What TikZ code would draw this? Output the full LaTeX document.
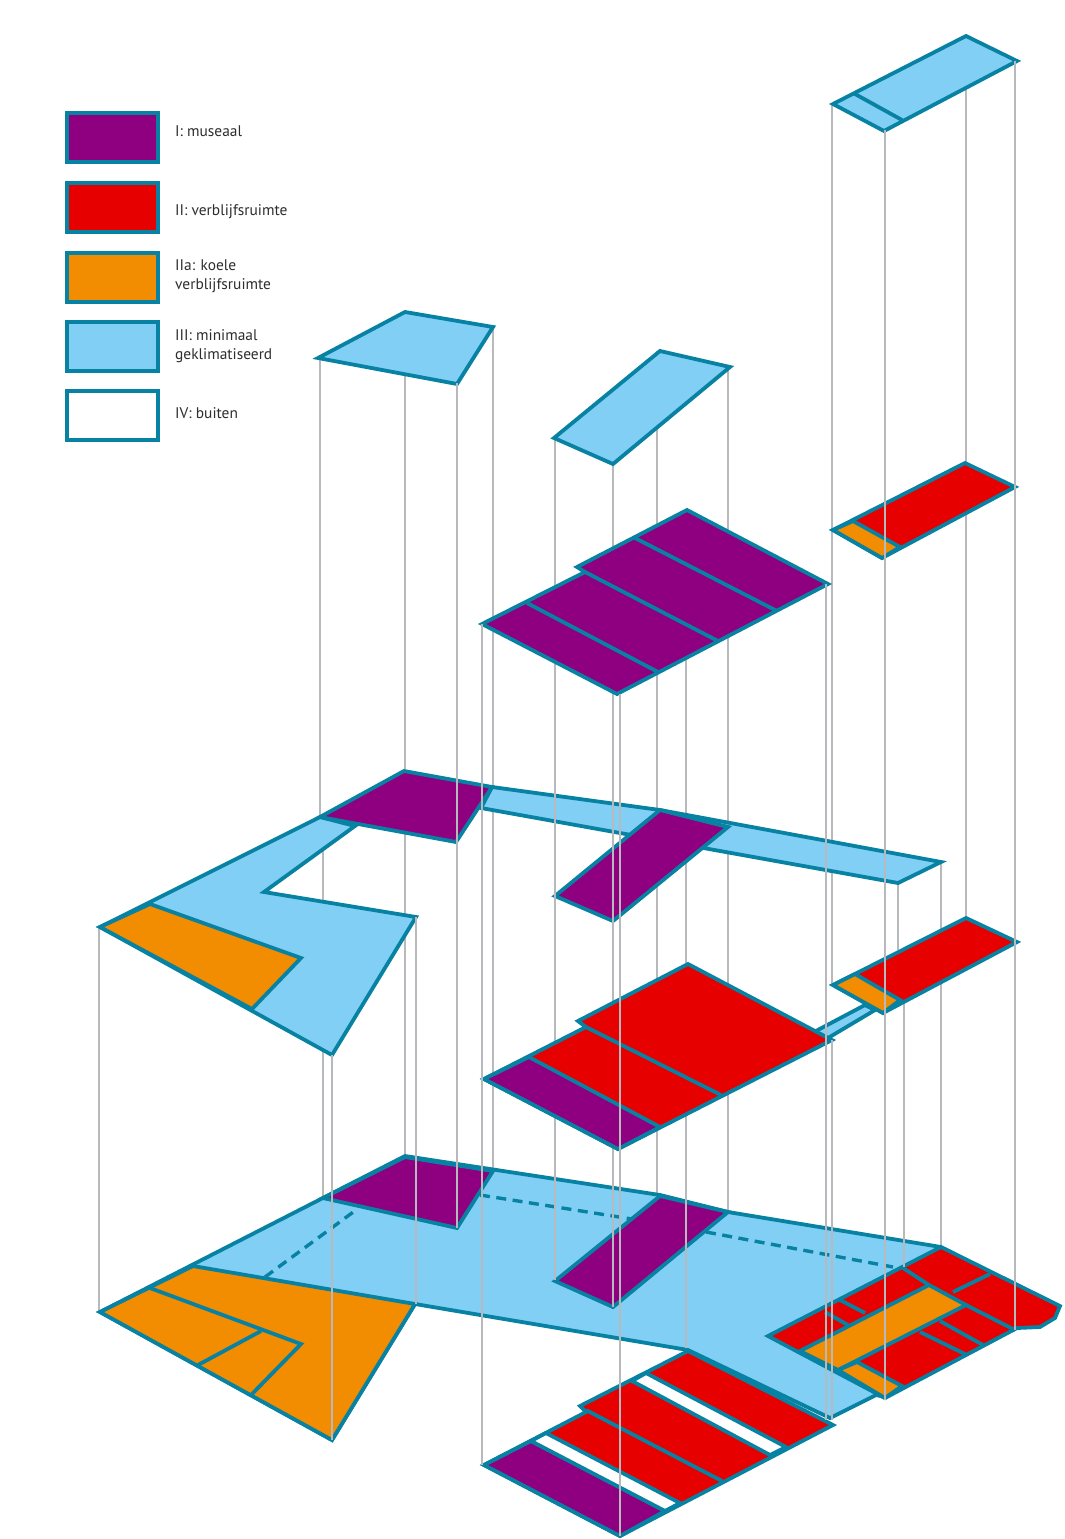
\documentclass[tikz,border=0pt]{standalone}
\usepackage{fontspec}
\setmainfont{PT Sans}
\definecolor{edge}{RGB}{8,130,163}
\definecolor{zpurple}{RGB}{142,0,127}
\definecolor{zred}{RGB}{230,0,0}
\definecolor{zorange}{RGB}{242,140,0}
\definecolor{zblue}{RGB}{130,207,245}
\definecolor{guide}{RGB}{184,185,189}
\definecolor{legendtext}{RGB}{45,45,45}
\tikzset{
  zone/.style={draw=edge,line width=3.8pt,line join=miter},
  museaal/.style={zone,fill=zpurple},
  verblijf/.style={zone,fill=zred},
  koel/.style={zone,fill=zorange},
  minimaal/.style={zone,fill=zblue},
  buiten/.style={zone,fill=white},
  divider/.style={draw=edge,line width=3.8pt},
  hiddenedge/.style={draw=edge,line width=3.4pt,dash pattern=on 10pt off 6.5pt},
  guideline/.style={draw=guide,line width=1.9pt},
  swatch/.style={draw=edge,line width=4pt,minimum width=91pt,minimum height=49pt,inner sep=0pt,anchor=north west},
  legendlabel/.style={anchor=west,inner sep=0pt,text=legendtext,font=\fontsize{15.4}{19}\selectfont,align=left}
}
\begin{document}
\begin{tikzpicture}[x=1pt,y=-1pt]
\useasboundingbox (0,0) rectangle (1065,1539);

% guide end points
\foreach \n/\x/\y in {
  at/99/927,ab/99/1312,
  bt/320/358,bb/320/818,
  ct/323/818,cb/323/1198,
  dt/405/312,db/405/1155,
  et/493/327,eb/493/1171,
  ft/657/351,fb/657/1195,
  gt/728/367,gb/728/1212,
  ht/966/37,hb/966/918,
  it/832/104,ib/832/985,
  jt/941/862,jb/941/1247,
  kt/898/883,kb/898/950,
  lt/904/1000,lb/904/1267,
  mt/686/510,mb/686/1348,
  nt/555/438,nb/555/896,
  ot/555/896,ob/555/1280,
  pt/613/464,pb/613/1307,
  qt/457/383,qb/457/1228,
  rt/482/624,rb/482/1465,
  st/620/694,sb/620/1536,
  ut/332/1055,ub/332/1440,
  vt/416/917,vb/416/1304,
  wt/826/584,wb/826/1420,
  yt/832/1040,yb/832/1420,
  zt/885/130,zb/885/1400,
  xt/1015/61,xb/1015/1330}
  {\coordinate (\n) at (\x,\y);}

% guides behind every floor
\foreach \n in {a,b,c,d,e,f,g,h,i,j,k}
  \draw[guideline] (\n t) -- (\n b);

% ground floor
\draw[minimaal] (100,1312) -- (405,1156) -- (660,1195) -- (728,1212) -- (941,1247) -- (1000,1300) -- (885,1397) -- (876,1395) -- (830,1418) -- (688,1350) -- (415,1304) -- (332,1440) -- cycle;
\draw[koel] (100,1312) -- (193,1266) -- (415,1304) -- (332,1440) -- cycle;
\draw[divider,line join=miter] (150,1288) -- (301,1344) -- (252,1394);
\draw[divider] (261,1331) -- (198,1365);
\draw[hiddenedge] (265,1277) -- (356,1210);
\draw[hiddenedge] (480,1195) -- (632,1219);
\draw[hiddenedge] (706,1232) -- (893,1267);
\draw[museaal] (323,1198) -- (405,1157) -- (493,1171) -- (457,1228) -- cycle;
\draw[museaal] (555,1281) -- (660,1196) -- (728,1212) -- (613,1307) -- cycle;

% ground floor, right wing
\draw[verblijf] (768,1336) -- (941,1247) -- (1060,1306) -- (1055,1318) -- (1040,1327) -- (1017,1328) -- (885,1398) -- cycle;
\draw[koel] (800,1351) -- (929,1285) -- (966,1305) -- (838,1370) -- cycle;
\draw[koel] (838,1370) -- (857,1362) -- (902,1386) -- (885,1398) -- cycle;
\draw[divider] (903,1268) -- (929,1285);
\draw[divider] (966,1305) -- (1015,1330);
\draw[divider] (990,1274) -- (953,1292);
\draw[divider] (825,1312) -- (848,1325);
\draw[divider] (840,1300) -- (865,1313);
\draw[divider] (920,1332) -- (967,1355);
\draw[divider] (940,1321) -- (983,1345);

% ground floor, front block
\draw[verblijf] (484,1465) -- (586,1412) -- (580,1406) -- (688,1351) -- (833,1425) -- (620,1536) -- cycle;
\draw[museaal] (484,1465) -- (531,1441) -- (665,1511) -- (620,1536) -- cycle;
\draw[buiten] (531,1441) -- (546,1433) -- (680,1503) -- (665,1511) -- cycle;
\draw[buiten] (632,1381) -- (646,1373) -- (786,1447) -- (770,1455) -- cycle;
\draw[divider] (586,1410) -- (722,1481);

% guides over the ground floor
\foreach \n in {l,m}
  \draw[guideline] (\n t) -- (\n b);

% first floor
\draw[minimaal] (100,927) -- (320,817) -- (355,826) -- (264,892) -- (416,917) -- (332,1055) -- cycle;
\draw[koel] (100,927) -- (150,904) -- (301,958) -- (252,1009) -- cycle;
\draw[minimaal] (492,787) -- (660,810) -- (941,862) -- (898,883) -- (481,808) -- cycle;
\draw[museaal] (320,817) -- (404,771) -- (492,787) -- (456,842) -- cycle;
\draw[museaal] (555,896) -- (660,810) -- (728,827) -- (613,921) -- cycle;

% guides over the first floor
\foreach \n in {n,o,p}
  \draw[guideline] (\n t) -- (\n b);

% second floor
\draw[minimaal] (814,1032) -- (865,1005) -- (875,1010) -- (828,1038) -- cycle;
\draw[verblijf] (484,1079) -- (586,1027) -- (578,1021) -- (688,964) -- (832,1040) -- (618,1149) -- cycle;
\draw[museaal] (484,1079) -- (529,1057) -- (660,1127) -- (618,1149) -- cycle;
\draw[divider] (586,1027) -- (721,1095);
\draw[verblijf] (833,985) -- (966,918) -- (1017,942) -- (883,1013) -- cycle;
\draw[koel] (833,985) -- (855,974) -- (900,1000) -- (883,1013) -- cycle;

% third floor
\draw[museaal] (482,624) -- (585,572) -- (577,567) -- (687,510) -- (828,584) -- (617,694) -- cycle;
\draw[divider] (527,603) -- (658,672);
\draw[divider] (585,572) -- (718,641);
\draw[divider] (635,538) -- (777,611);
\draw[verblijf] (833,530) -- (965,463) -- (1015,487) -- (882,558) -- cycle;
\draw[koel] (833,530) -- (853,521) -- (900,547) -- (882,558) -- cycle;

% roofs
\draw[minimaal] (318,358) -- (405,312) -- (493,327) -- (457,384) -- cycle;
\draw[minimaal] (554,438) -- (660,351) -- (730,367) -- (613,464) -- cycle;
\draw[minimaal] (833,104) -- (966,36) -- (1017,61) -- (884,131) -- cycle;
\draw[divider] (855,94) -- (902,120);

% guides in front of everything
\foreach \n in {q,r,s,u,v,w,y,z,x}
  \draw[guideline] (\n t) -- (\n b);

% legend
\node[swatch,fill=zpurple] (s1) at (65,111) {};
\node[swatch,fill=zred] (s2) at (65,181) {};
\node[swatch,fill=zorange] (s3) at (65,251) {};
\node[swatch,fill=zblue] (s4) at (65,320) {};
\node[swatch,fill=white] (s5) at (65,389) {};
\node[legendlabel] (l1) at (175,131) {I: museaal};
\node[legendlabel] (l2) at (175,212) {II: verblijfsruimte};
\node[legendlabel] (l3) at (175,276.5) {IIa: koele\\verblijfsruimte};
\node[legendlabel] (l4) at (175,346.5) {III: minimaal\\geklimatiseerd};
\node[legendlabel] (l5) at (175,413) {IV: buiten};
\end{tikzpicture}
\end{document}
